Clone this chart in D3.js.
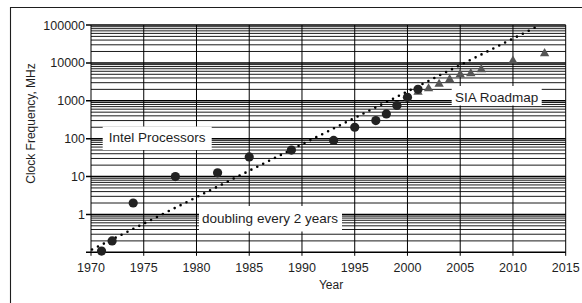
<!DOCTYPE html>
<html><head><meta charset="utf-8">
<script src="https://cdn.jsdelivr.net/npm/d3@7"></script>
<style>
html,body{margin:0;padding:0;background:#fff;}
svg{display:block;font-family:"Liberation Sans",Arial,Helvetica,sans-serif;}
</style></head>
<body><svg id="c" width="582" height="303"></svg>
<script>
// ---- data ----
const intelYears = [1971, 1972, 1974, 1978, 1982, 1985, 1989, 1993, 1995, 1997, 1998, 1999, 2000, 2001];
const intelMHz   = [0.108, 0.2, 2, 10, 12.5, 33, 50, 90, 200, 300, 450, 750, 1230, 2000];
const siaYears = [2001, 2002, 2003, 2004, 2005, 2006, 2007, 2010, 2013];
const siaMHz   = [1700, 2100, 2750, 3650, 4950, 5250, 6700, 11300, 17700];
const trendYears = [1970.1, 2012.25];
const trendMHz   = [0.1186, 90000];
const xTicks = [1970, 1975, 1980, 1985, 1990, 1995, 2000, 2005, 2010, 2015];
const yTicks = [0.1, 1, 10, 100, 1000, 10000, 100000];
const yTickLabels = ["", "1", "10", "100", "1000", "10000", "100000"];
const labels = ["Intel Processors", "SIA Roadmap", "doubling every 2 years"];

// ---- layout ----
const svg = d3.select("#c");
const X0 = 91, X1 = 565.7, Y0 = 252.3, Y1 = 25;
const x = d3.scaleLinear().domain([1970, 2015]).range([X0, X1]);
const y = d3.scaleLog().domain([0.1, 100000]).range([Y0, Y1]);
const ink = "#1e1e1e";

// frame
svg.append("path").attr("d", "M10.5,303 V7.5 H582")
  .attr("fill", "none").attr("stroke", ink).attr("stroke-width", 1.1);

// horizontal grid (log minor lines)
const minor = [];
for (let e = -1; e < 5; e++) for (let m = 2; m <= 9; m++) minor.push(m * Math.pow(10, e));
svg.append("g").selectAll("line").data(minor).join("line")
  .attr("x1", X0).attr("x2", X1)
  .attr("y1", d => y(d)).attr("y2", d => y(d))
  .attr("stroke", "#000").attr("stroke-width", 0.9);
svg.append("g").selectAll("line").data(yTicks).join("line")
  .attr("x1", X0 - 5).attr("x2", X1)
  .attr("y1", d => y(d)).attr("y2", d => y(d))
  .attr("stroke", "#000").attr("stroke-width", 1.5);

// vertical grid
svg.append("g").selectAll("line").data(xTicks).join("line")
  .attr("x1", d => x(d)).attr("x2", d => x(d))
  .attr("y1", Y1).attr("y2", Y0 + 3.5)
  .attr("stroke", "#000").attr("stroke-width", 1);

// tick labels
svg.append("g").selectAll("text").data(xTicks).join("text")
  .attr("x", d => x(d)).attr("y", 271.5).attr("text-anchor", "middle")
  .attr("font-size", 12.5).attr("fill", ink).text(d => d);
svg.append("g").selectAll("text").data(yTicks).join("text")
  .attr("x", 85).attr("y", d => y(d) + 4.5).attr("text-anchor", "end")
  .attr("font-size", 12.5).attr("fill", ink).text((d, i) => yTickLabels[i]);

// axis titles
svg.append("text").attr("x", 331).attr("y", 289.3).attr("text-anchor", "middle")
  .attr("font-size", 12).attr("fill", ink).text("Year");
svg.append("text").attr("transform", "translate(34.5,123.5) rotate(-90)")
  .attr("text-anchor", "middle").attr("font-size", 12).attr("fill", ink)
  .text("Clock Frequency, MHz");

// label boxes
const boxes = [
  {x0: 102.7, x1: 211.7, y0: 126.5, y1: 150, tx: 157.2, ty: 141.7},
  {x0: 451.7, x1: 541.7, y0: 86, y1: 105.5, tx: 496.7, ty: 101.5},
  {x0: 199, x1: 342, y0: 206, y1: 231.5, tx: 270, ty: 223.3}
];
const lg = svg.append("g");
lg.selectAll("rect").data(boxes).join("rect")
  .attr("x", d => d.x0).attr("y", d => d.y0)
  .attr("width", d => d.x1 - d.x0).attr("height", d => d.y1 - d.y0)
  .attr("fill", "#fff");
lg.selectAll("text").data(boxes).join("text")
  .attr("x", d => d.tx).attr("y", d => d.ty).attr("text-anchor", "middle")
  .attr("font-size", 13.5).attr("fill", ink).text((d, i) => labels[i]);

// trend (dotted)
const line = d3.line().x(d => x(d[0])).y(d => y(d[1]));
svg.append("path").datum(d3.zip(trendYears, trendMHz)).attr("d", line)
  .attr("fill", "none").attr("stroke", "#000").attr("stroke-width", 2.6)
  .attr("stroke-linecap", "round").attr("stroke-dasharray", "0 6.6");

// SIA triangles
svg.append("g").selectAll("path").data(d3.zip(siaYears, siaMHz)).join("path")
  .attr("transform", d => `translate(${x(d[0])},${y(d[1])})`)
  .attr("d", d3.symbol(d3.symbolTriangle, 38))
  .attr("fill", "#555");

// Intel circles
svg.append("g").selectAll("circle").data(d3.zip(intelYears, intelMHz)).join("circle")
  .attr("cx", d => x(d[0])).attr("cy", d => y(d[1])).attr("r", 4.6)
  .attr("fill", "#222");
</script></body></html>
